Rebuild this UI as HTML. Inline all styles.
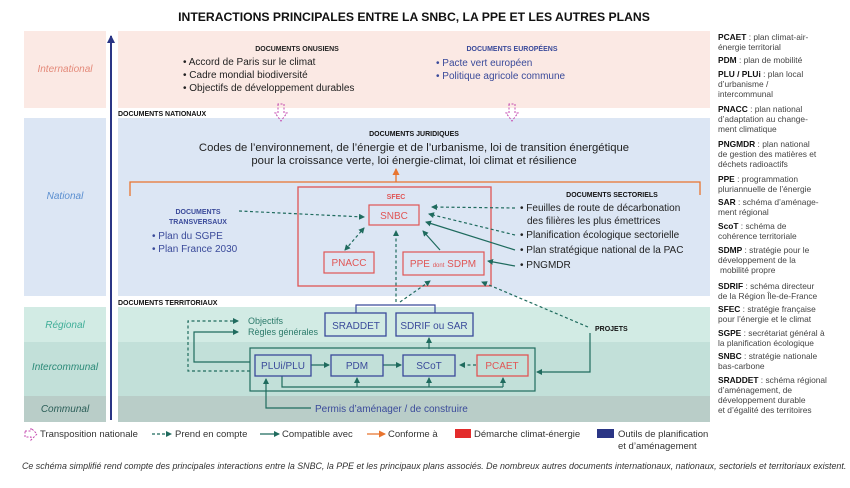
<!DOCTYPE html>
<html><head><meta charset="utf-8"><style>
html,body{margin:0;padding:0;background:#fff;}
svg{display:block;font-family:"Liberation Sans",sans-serif;}
</style></head><body>
<svg width="850" height="488" viewBox="0 0 850 488" xmlns="http://www.w3.org/2000/svg">
<defs>
<marker id="ag" markerWidth="6" markerHeight="6" refX="5" refY="3" orient="auto" markerUnits="userSpaceOnUse"><path d="M0,0 L6,3 L0,6 z" fill="#1f6b5e"/></marker>
<marker id="ags" markerWidth="6" markerHeight="6" refX="5" refY="3" orient="auto-start-reverse" markerUnits="userSpaceOnUse"><path d="M0,0 L6,3 L0,6 z" fill="#1f6b5e"/></marker>
<marker id="ao" markerWidth="7" markerHeight="7" refX="6" refY="3.5" orient="auto" markerUnits="userSpaceOnUse"><path d="M0,0 L7,3.5 L0,7 z" fill="#e8742f"/></marker>
<marker id="ab" markerWidth="8" markerHeight="8" refX="7" refY="4" orient="auto" markerUnits="userSpaceOnUse"><path d="M0,0 L8,4 L0,8 z" fill="#2a3585"/></marker>
</defs>
<text x="414" y="21" text-anchor="middle" font-size="12.2" font-weight="bold" fill="#111">INTERACTIONS PRINCIPALES ENTRE LA SNBC, LA PPE ET LES AUTRES PLANS</text>

<rect x="24" y="31" width="82" height="77" fill="#fbe9e4"/>
<rect x="118" y="31" width="592" height="77" fill="#fbe9e4"/>
<rect x="24" y="118" width="82" height="178" fill="#dce6f4"/>
<rect x="118" y="118" width="592" height="178" fill="#dce6f4"/>
<rect x="24" y="307" width="82" height="35" fill="#d2ebe4"/>
<rect x="118" y="307" width="592" height="35" fill="#d2ebe4"/>
<rect x="24" y="342" width="82" height="54" fill="#c2e0d9"/>
<rect x="118" y="342" width="592" height="54" fill="#c2e0d9"/>
<rect x="24" y="396" width="82" height="26" fill="#b9cdc8"/>
<rect x="118" y="396" width="592" height="26" fill="#b9cdc8"/>

<g font-style="italic" font-size="10" text-anchor="middle">
<text x="65" y="72" fill="#e48a7a">International</text>
<text x="65" y="199" fill="#5b8fd0">National</text>
<text x="65" y="328" fill="#3fae98">Régional</text>
<text x="65" y="370" fill="#2b8a78">Intercommunal</text>
<text x="65" y="412" fill="#2b5e58">Communal</text>
</g>
<line x1="111" y1="420" x2="111" y2="36" stroke="#2a3585" stroke-width="2" marker-end="url(#ab)"/>

<g font-size="10" fill="#222">
<text x="297" y="51" text-anchor="middle" font-size="7" font-weight="bold">DOCUMENTS ONUSIENS</text>
<text x="183" y="65">• Accord de Paris sur le climat</text>
<text x="183" y="78">• Cadre mondial biodiversité</text>
<text x="183" y="91">• Objectifs de développement durables</text>
</g>
<g font-size="10" fill="#3a4a9a">
<text x="512" y="51" text-anchor="middle" font-size="7" font-weight="bold">DOCUMENTS EUROPÉENS</text>
<text x="436" y="66">• Pacte vert européen</text>
<text x="436" y="79">• Politique agricole commune</text>
</g>
<text x="118" y="116" font-size="7" font-weight="bold" fill="#111">DOCUMENTS NATIONAUX</text>
<text x="118" y="305" font-size="7" font-weight="bold" fill="#111">DOCUMENTS TERRITORIAUX</text>
<g fill="none" stroke="#c44bb0" stroke-width="1" stroke-dasharray="2,1.5">
<path d="M278,104 V113 H275 L281,121 L287,113 H284 V104 Z"/>
<path d="M509,104 V113 H506 L512,121 L518,113 H515 V104 Z"/>
</g>

<text x="414" y="136" text-anchor="middle" font-size="7" font-weight="bold" fill="#111">DOCUMENTS JURIDIQUES</text>
<text x="414" y="151" text-anchor="middle" font-size="11.3" fill="#222">Codes de l’environnement, de l’énergie et de l’urbanisme, loi de transition énergétique</text>
<text x="414" y="164" text-anchor="middle" font-size="11.3" fill="#222">pour la croissance verte, loi énergie-climat, loi climat et résilience</text>
<path d="M130,196 V182 H700 V195" fill="none" stroke="#e8742f" stroke-width="1.3"/>
<line x1="396" y1="182" x2="396" y2="169" stroke="#e8742f" stroke-width="1.3" marker-end="url(#ao)"/>

<rect x="298" y="187" width="193" height="99" fill="none" stroke="#e05555" stroke-width="1.3"/>
<text x="396" y="199" text-anchor="middle" font-size="7" font-weight="bold" fill="#e05555">SFEC</text>
<rect x="369" y="205" width="50" height="20" fill="none" stroke="#e05555" stroke-width="1.2"/>
<text x="394" y="219" text-anchor="middle" font-size="10" fill="#e05555">SNBC</text>
<rect x="324" y="252" width="50" height="21" fill="none" stroke="#e05555" stroke-width="1.2"/>
<text x="349" y="266" text-anchor="middle" font-size="10" fill="#e05555">PNACC</text>
<rect x="403" y="252" width="81" height="23" fill="none" stroke="#e05555" stroke-width="1.2"/>
<text x="443" y="267" text-anchor="middle" font-size="10" fill="#e05555">PPE <tspan font-size="6">dont</tspan> SDPM</text>

<g font-size="7" font-weight="bold" fill="#3a4a9a" text-anchor="middle">
<text x="198" y="214">DOCUMENTS</text><text x="198" y="224">TRANSVERSAUX</text></g>
<g font-size="10" fill="#3a4a9a"><text x="152" y="239">• Plan du SGPE</text><text x="152" y="252">• Plan France 2030</text></g>

<text x="612" y="197" text-anchor="middle" font-size="7" font-weight="bold" fill="#111">DOCUMENTS SECTORIELS</text>
<g font-size="10" fill="#222">
<text x="520" y="211">• Feuilles de route de décarbonation</text>
<text x="527" y="224">des filières les plus émettrices</text>
<text x="520" y="238">• Planification écologique sectorielle</text>
<text x="520" y="253">• Plan stratégique national de la PAC</text>
<text x="520" y="268">• PNGMDR</text>
</g>

<g stroke="#1f6b5e" stroke-width="1.2" fill="none">
<g stroke-dasharray="3,2.5">
<line x1="239" y1="211" x2="364" y2="217" marker-end="url(#ag)"/>
<line x1="345" y1="250" x2="364" y2="228" marker-end="url(#ag)" marker-start="url(#ags)"/>
<line x1="515" y1="208" x2="432" y2="207" marker-end="url(#ag)"/>
<line x1="515" y1="235" x2="429" y2="214" marker-end="url(#ag)"/>
<line x1="396" y1="302" x2="396" y2="231" marker-end="url(#ag)"/>
<line x1="400" y1="302" x2="430" y2="281" marker-end="url(#ag)"/>
<line x1="588" y1="327" x2="482" y2="282" marker-end="url(#ag)"/>
<line x1="476" y1="365" x2="460" y2="365" marker-end="url(#ag)"/>
<path d="M250,371 H188 V321 H238" marker-end="url(#ag)"/>
</g>
<line x1="515" y1="250" x2="426" y2="222" marker-end="url(#ag)"/>
<line x1="440" y1="250" x2="423" y2="231" marker-end="url(#ag)"/>
<line x1="515" y1="266" x2="488" y2="261" marker-end="url(#ag)"/>
<path d="M250,362 H194 V332 H238" marker-end="url(#ag)"/>
<rect x="250" y="348" width="285" height="43"/>
<line x1="311" y1="365" x2="329" y2="365" marker-end="url(#ag)"/>
<line x1="383" y1="365" x2="401" y2="365" marker-end="url(#ag)"/>
<path d="M282,376 V387 H503"/>
<line x1="357" y1="387" x2="357" y2="378" marker-end="url(#ag)"/>
<line x1="429" y1="387" x2="429" y2="378" marker-end="url(#ag)"/>
<line x1="503" y1="387" x2="503" y2="378" marker-end="url(#ag)"/>
<line x1="429" y1="349" x2="429" y2="338" marker-end="url(#ag)"/>
<path d="M590,333 V372 H537" marker-end="url(#ag)"/>
<path d="M311,408 H266 V379" marker-end="url(#ag)"/>
</g>

<path d="M356,313 V305 H435 V313" fill="none" stroke="#3a4a9a" stroke-width="1.2"/>
<g fill="none" stroke="#3a4a9a" stroke-width="1.3">
<rect x="325" y="313" width="61" height="23"/><rect x="396" y="313" width="77" height="23"/>
<rect x="255" y="355" width="56" height="21"/><rect x="331" y="355" width="52" height="21"/><rect x="403" y="355" width="52" height="21"/>
</g>
<rect x="477" y="355" width="51" height="21" fill="none" stroke="#e05555" stroke-width="1.3"/>
<g font-size="10" fill="#3a4a9a" text-anchor="middle">
<text x="356" y="329">SRADDET</text><text x="434" y="329">SDRIF ou SAR</text>
<text x="283" y="369">PLUi/PLU</text><text x="357" y="369">PDM</text><text x="429" y="369">SCoT</text>
</g>
<text x="502" y="369" text-anchor="middle" font-size="10" fill="#e05555">PCAET</text>
<g font-size="9" fill="#2b7a6a"><text x="248" y="324">Objectifs</text><text x="248" y="335">Règles générales</text></g>
<text x="595" y="331" font-size="7" font-weight="bold" fill="#111">PROJETS</text>
<text x="315" y="412" font-size="10" fill="#3a4a9a">Permis d’aménager / de construire</text>

<path d="M25,431 H31 V428 L37,434 L31,440 V437 H25 Z" fill="none" stroke="#c44bb0" stroke-width="1" stroke-dasharray="2,1.5"/>
<g font-size="9.5" fill="#333">
<text x="40" y="437">Transposition nationale</text>
<text x="175" y="437">Prend en compte</text>
<text x="282" y="437">Compatible avec</text>
<text x="388" y="437">Conforme à</text>
<text x="474" y="437">Démarche climat-énergie</text>
<text x="618" y="437">Outils de planification</text>
<text x="618" y="449">et d’aménagement</text>
</g>
<line x1="152" y1="434" x2="171" y2="434" stroke="#1f6b5e" stroke-width="1.2" stroke-dasharray="3,2" marker-end="url(#ag)"/>
<line x1="260" y1="434" x2="279" y2="434" stroke="#1f6b5e" stroke-width="1.2" marker-end="url(#ag)"/>
<line x1="367" y1="434" x2="385" y2="434" stroke="#e8742f" stroke-width="1.2" marker-end="url(#ao)"/>
<rect x="455" y="429" width="16" height="9" fill="#e32b2b"/>
<rect x="597" y="429" width="17" height="9" fill="#2a3585"/>
<text x="22" y="469" font-size="8.9" font-style="italic" fill="#333">Ce schéma simplifié rend compte des principales interactions entre la SNBC, la PPE et les principaux plans associés. De nombreux autres documents internationaux, nationaux, sectoriels et territoriaux existent.</text>

<g font-size="8.4" fill="#444">
<text x="718" y="40"><tspan font-weight="bold" fill="#111">PCAET</tspan> : plan climat-air-</text><text x="718" y="50">énergie territorial</text>
<text x="718" y="63"><tspan font-weight="bold" fill="#111">PDM</tspan> : plan de mobilité</text>
<text x="718" y="77"><tspan font-weight="bold" fill="#111">PLU / PLUi</tspan> : plan local</text><text x="718" y="87">d’urbanisme /</text><text x="718" y="97">intercommunal</text>
<text x="718" y="112"><tspan font-weight="bold" fill="#111">PNACC</tspan> : plan national</text><text x="718" y="122">d’adaptation au change-</text><text x="718" y="132">ment climatique</text>
<text x="718" y="147"><tspan font-weight="bold" fill="#111">PNGMDR</tspan> : plan national</text><text x="718" y="157">de gestion des matières et</text><text x="718" y="167">déchets radioactifs</text>
<text x="718" y="182"><tspan font-weight="bold" fill="#111">PPE</tspan> : programmation</text><text x="718" y="192">pluriannuelle de l’énergie</text>
<text x="718" y="205"><tspan font-weight="bold" fill="#111">SAR</tspan> : schéma d’aménage-</text><text x="718" y="215">ment régional</text>
<text x="718" y="229"><tspan font-weight="bold" fill="#111">ScoT</tspan> : schéma de</text><text x="718" y="239">cohérence territoriale</text>
<text x="718" y="253"><tspan font-weight="bold" fill="#111">SDMP</tspan> : stratégie pour le</text><text x="718" y="263">développement de la</text><text x="720" y="273">mobilité propre</text>
<text x="718" y="289"><tspan font-weight="bold" fill="#111">SDRIF</tspan> : schéma directeur</text><text x="718" y="299">de la Région Île-de-France</text>
<text x="718" y="312"><tspan font-weight="bold" fill="#111">SFEC</tspan> : stratégie française</text><text x="718" y="322">pour l’énergie et le climat</text>
<text x="718" y="336"><tspan font-weight="bold" fill="#111">SGPE</tspan> : secrétariat général à</text><text x="718" y="346">la planification écologique</text>
<text x="718" y="359"><tspan font-weight="bold" fill="#111">SNBC</tspan> : stratégie nationale</text><text x="718" y="369">bas-carbone</text>
<text x="718" y="383"><tspan font-weight="bold" fill="#111">SRADDET</tspan> : schéma régional</text><text x="718" y="393">d’aménagement, de</text><text x="718" y="403">développement durable</text><text x="718" y="413">et d’égalité des territoires</text>
</g>
</svg>
</body></html>
